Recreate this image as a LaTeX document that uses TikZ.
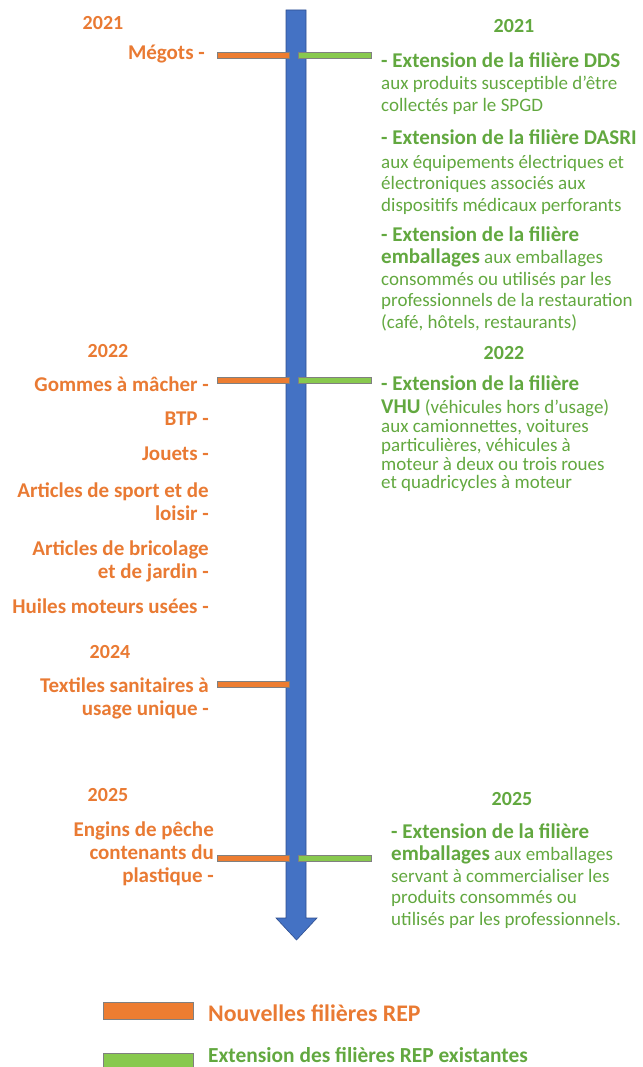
\documentclass[tikz,border=0pt]{standalone}
\usepackage{fontspec}
\setmainfont{Carlito}
\definecolor{ortxt}{HTML}{E97A33}
\definecolor{orbar}{HTML}{ED7D31}
\definecolor{grtxt}{HTML}{62A83F}
\definecolor{grbar}{HTML}{88C94E}
\definecolor{blu}{HTML}{4472C4}
\definecolor{bluedge}{HTML}{2F4F8F}
\definecolor{baredge}{HTML}{808080}
\newcommand\myhd[1]{{\fontsize{21}{21.6}\selectfont\bfseries #1}}
\begin{document}
\begin{tikzpicture}[x=1pt,y=-1pt,
  lft/.style={anchor=north east,inner sep=0pt,align=right,text=ortxt,font=\fontsize{21}{23}\selectfont\bfseries},
  yearL/.style={anchor=center,inner sep=0pt,text=ortxt,font=\fontsize{20}{22}\selectfont\bfseries},
  yearR/.style={anchor=center,inner sep=0pt,text=grtxt,font=\fontsize{20}{22}\selectfont\bfseries},
  rgt/.style={anchor=north west,inner sep=0pt,align=left,text=grtxt,font=\fontsize{19}{21.6}\selectfont},
  rgtb/.style={rgt,font=\fontsize{19}{18.8}\selectfont},
  obar/.style={fill=orbar,draw=baredge,line width=0.8pt,inner sep=0pt,minimum width=72pt,minimum height=6pt},
  gbar/.style={fill=grbar,draw=baredge,line width=0.8pt,inner sep=0pt,minimum width=73pt,minimum height=6pt},
  legbox/.style={draw=baredge,line width=0.8pt,inner sep=0pt,minimum width=90pt,minimum height=17pt}]
\useasboundingbox (0,0) rectangle (642,1067);
% timeline arrow
\coordinate (ttop) at (296,10);
\coordinate (tend) at (296.5,940);
\filldraw[fill=blu,draw=bluedge,line width=0.6pt] (286,10) -- (306,10) -- (306,918) -- (317,918) -- (tend) -- (276,918) -- (286,918) -- cycle;
% bars
\node[obar] (o1) at (253,55) {};
\node[gbar] (g1) at (334.5,55) {};
\node[obar] (o2) at (253,380) {};
\node[gbar] (g2) at (334.5,380) {};
\node[obar] (o3) at (253,684) {};
\node[obar] (o4) at (253,858) {};
\node[gbar] (g4) at (334.5,858) {};
% left side
\node[yearL] (y21l) at (103,23) {2021};
\node[lft] (megots) at (205,45) {Mégots -};
\node[yearL] (y22l) at (108,351) {2022};
\node[lft] (gommes) at (209,377) {Gommes à mâcher -};
\node[lft] (btp) at (209,412) {BTP -};
\node[lft] (jouets) at (209,447) {Jouets -};
\node[lft] (sport) at (209,483) {Articles de sport et de\\loisir -};
\node[lft] (brico) at (209,541) {Articles de bricolage\\et de jardin -};
\node[lft] (huiles) at (209,599) {Huiles moteurs usées -};
\node[yearL] (y24l) at (110,652) {2024};
\node[lft] (textiles) at (209,678) {Textiles sanitaires à\\usage unique -};
\node[yearL] (y25l) at (108,795) {2025};
\node[lft] (engins) at (214,822) {Engins de pêche\\contenants du\\plastique -};
% right side
\node[yearR] (y21r) at (514,26) {2021};
\node[rgt] (dds) at (381,53) {\myhd{- Extension de la filière DDS}\\aux produits susceptible d’être\\collectés par le SPGD};
\node[rgt] (dasri) at (381,130) {\myhd{- Extension de la filière DASRI}\\[1.5pt]aux équipements électriques et\\électroniques associés aux\\dispositifs médicaux perforants};
\node[rgt] (emb1) at (381,227) {\myhd{- Extension de la filière}\\\myhd{emballages} aux emballages\\consommés ou utilisés par les\\professionnels de la restauration\\(café, hôtels, restaurants)};
\node[yearR] (y22r) at (504,353) {2022};
\node[rgtb] (vhu) at (381,376) {\myhd{- Extension de la filière}\\[4pt]\myhd{VHU} (véhicules hors d’usage)\\aux camionnettes, voitures\\particulières, véhicules à\\moteur à deux ou trois roues\\et quadricycles à moteur};
\node[yearR] (y25r) at (512,799) {2025};
\node[rgt] (emb2) at (391,824) {\myhd{- Extension de la filière}\\\myhd{emballages} aux emballages\\servant à commercialiser les\\produits consommés ou\\utilisés par les professionnels.};
% legend
\node[legbox,fill=orbar] (lego) at (148,1010.5) {};
\node[anchor=west,inner sep=0pt,text=ortxt,font=\fontsize{23.8}{25}\selectfont\bfseries] (legot) at (208,1013) {Nouvelles filières REP};
\node[legbox,fill=grbar] (legg) at (148,1061.5) {};
\node[anchor=west,inner sep=0pt,text=grtxt,font=\fontsize{21.4}{23}\selectfont\bfseries] (leggt) at (208,1055) {Extension des filières REP existantes};
\end{tikzpicture}
\end{document}
